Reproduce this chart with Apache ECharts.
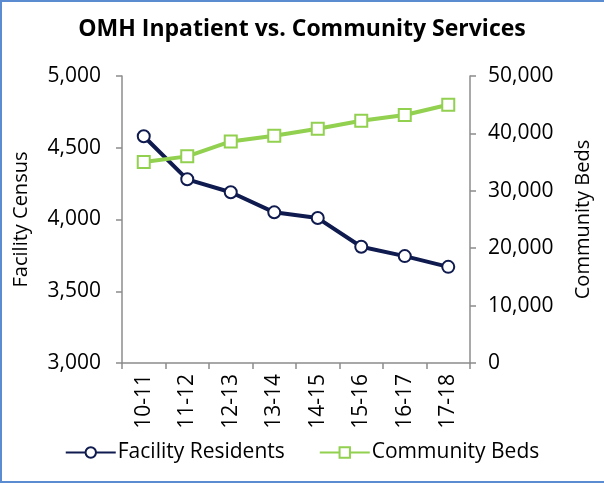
<!DOCTYPE html>
<html>
<head>
<meta charset="utf-8">
<script src="https://cdn.jsdelivr.net/npm/echarts@6/dist/echarts.min.js"></script>
<style>
html,body{margin:0;padding:0;background:#fff;}
#c{width:604px;height:484px;}
</style>
</head>
<body>
<div id="c"></div>
<script>
var categories = ['10-11','11-12','12-13','13-14','14-15','15-16','16-17','17-18'];
var facilityResidents = [4580, 4280, 4190, 4050, 4010, 3810, 3745, 3670];
var communityBeds = [35000, 36000, 38600, 39600, 40800, 42200, 43200, 45000];
var titleText = 'OMH Inpatient vs. Community Services';
var leftAxisName = 'Facility Census';
var rightAxisName = 'Community Beds';

var FONT = '"Open Sans", sans-serif';
var NAVY = '#0f1a4e';
var GREEN = '#92d050';
var AXIS = '#8c8c8c';
function fmt(v){ return String(v).replace(/\B(?=(\d{3})+(?!\d))/g, ','); }

var chart = echarts.init(document.getElementById('c'), null, {renderer:'canvas'});
chart.setOption({
  backgroundColor: '#fff',
  animation: false,
  graphic: [{
    type: 'rect', shape: {x: 1, y: 1, width: 640, height: 481},
    style: {fill: 'none', stroke: '#5b8bd0', lineWidth: 2}, silent: true, z: 100
  }],
  title: {
    text: titleText, left: 'center', top: 13,
    textStyle: {fontFamily: FONT, fontWeight: 'bold', fontSize: 23, color: '#000'}
  },
  grid: {left: 122, right: 134, top: 76, bottom: 121, containLabel: false},
  legend: {
    bottom: 16, left: 'center', itemWidth: 50, itemHeight: 13, itemGap: 34,
    textStyle: {fontFamily: FONT, fontSize: 21, color: '#000', padding: [0,0,0,-3]},
    data: ['Facility Residents', 'Community Beds']
  },
  xAxis: {
    type: 'category', data: categories, boundaryGap: true,
    axisLine: {lineStyle: {color: AXIS, width: 1.5}},
    axisTick: {show: true, length: 6, lineStyle: {color: AXIS, width: 1.5}},
    axisLabel: {rotate: 90, margin: 11, fontFamily: FONT, fontSize: 21, color: '#000'}
  },
  yAxis: [{
    type: 'value', min: 3000, max: 5000, interval: 500, position: 'left',
    name: leftAxisName, nameLocation: 'middle', nameGap: 91, nameRotate: 90,
    nameTextStyle: {fontFamily: FONT, fontSize: 20, color: '#000'},
    axisLine: {show: true, lineStyle: {color: AXIS, width: 1.5}},
    axisTick: {show: true, length: 6, lineStyle: {color: AXIS, width: 1.5}},
    splitLine: {show: false},
    axisLabel: {margin: 21, fontFamily: FONT, fontSize: 21, color: '#000', formatter: fmt}
  }, {
    type: 'value', min: 0, max: 50000, interval: 10000, position: 'right',
    name: rightAxisName, nameLocation: 'middle', nameGap: 103, nameRotate: 90,
    nameTextStyle: {fontFamily: FONT, fontSize: 20, color: '#000'},
    axisLine: {show: true, lineStyle: {color: AXIS, width: 1.5}},
    axisTick: {show: true, length: 6, lineStyle: {color: AXIS, width: 1.5}},
    splitLine: {show: false},
    axisLabel: {margin: 18, fontFamily: FONT, fontSize: 21, color: '#000', formatter: fmt}
  }],
  series: [{
    name: 'Facility Residents', type: 'line', yAxisIndex: 0, data: facilityResidents,
    symbol: 'circle', symbolSize: 12, showAllSymbol: true,
    lineStyle: {color: NAVY, width: 4},
    itemStyle: {color: '#fff', borderColor: NAVY, borderWidth: 2}
  }, {
    name: 'Community Beds', type: 'line', yAxisIndex: 1, data: communityBeds,
    symbol: 'rect', symbolSize: 12, showAllSymbol: true,
    lineStyle: {color: GREEN, width: 4},
    itemStyle: {color: '#fff', borderColor: GREEN, borderWidth: 2}
  }]
});
</script>
</body>
</html>
